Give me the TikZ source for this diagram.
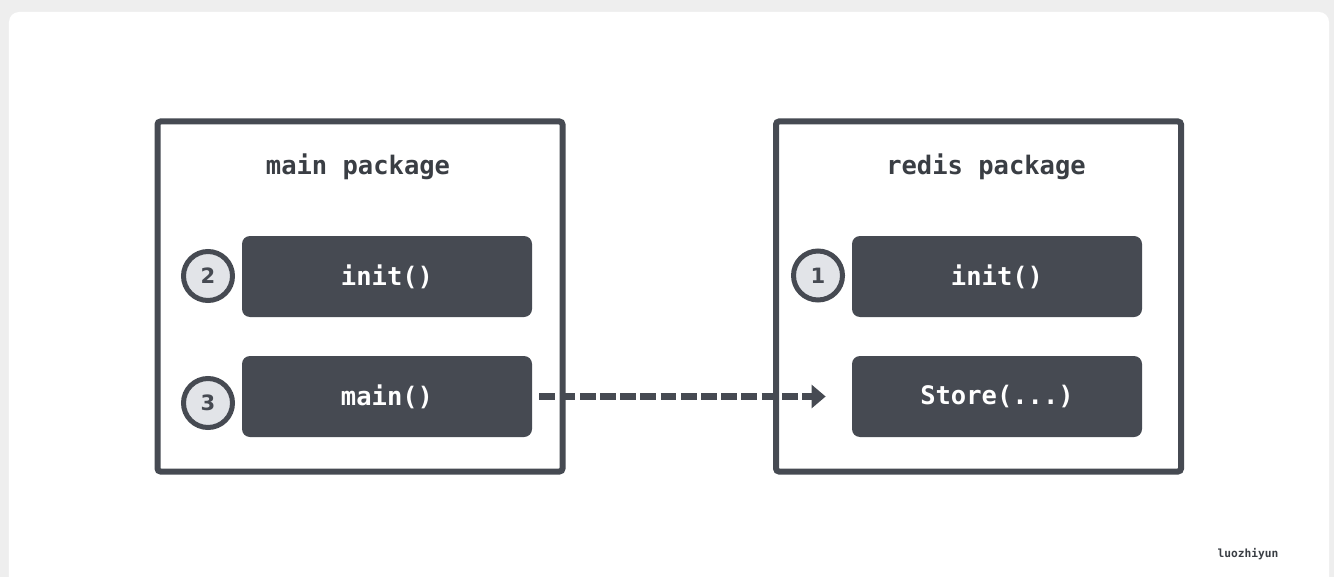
\documentclass[tikz,border=0pt]{standalone}
\usepackage{fontspec}
\setmainfont{DejaVu Sans}
\setsansfont{DejaVu Sans}
\setmonofont{DejaVu Sans Mono}
\usepackage{tikz}
\usetikzlibrary{arrows.meta, positioning, backgrounds}
\usepackage{xcolor}
\definecolor{pagegray}{RGB}{238, 238, 238}
\definecolor{boxgray}{RGB}{70, 74, 82}
\definecolor{circlefill}{RGB}{226, 228, 232}
\definecolor{titlegray}{RGB}{58, 62, 68}
\tikzset{
    package box/.style={
        rectangle,
        rounded corners=0.6mm,
        draw=boxgray,
        line width=0.12cm,
        minimum width=8.1cm,
        minimum height=7.0cm
    },
    package title/.style={
        font=\ttfamily\bfseries\fontsize{14.5}{17}\selectfont,
        text=titlegray
    },
    func box/.style={
        rectangle,
        rounded corners=1.6mm,
        fill=boxgray,
        minimum width=5.8cm,
        minimum height=1.62cm,
        align=center,
        text=white,
        font=\ttfamily\bfseries\fontsize{14.5}{17}\selectfont
    },
    order mark/.style={
        circle,
        draw=boxgray,
        line width=0.1cm,
        fill=circlefill,
        minimum size=0.98cm,
        inner sep=0pt,
        text=boxgray,
        font=\sffamily\bfseries\fontsize{12}{14}\selectfont
    },
    call arrow/.style={
        -{Triangle[length=8pt, width=13pt]},
        line width=0.15cm,
        draw=boxgray,
        dash pattern=on 9pt off 2.5pt
    }
}

\begin{document}
\begin{tikzpicture}

% Page and card
\useasboundingbox (0, 0) rectangle (26.68, 11.54);
\fill[pagegray] (0, 0) rectangle (26.68, 11.54);
\begin{scope}
    \clip (0, 0) rectangle (26.68, 11.54);
    \fill[white, rounded corners=2mm] (0.18, -0.5) rectangle (26.58, 11.3);
\end{scope}

% === PACKAGES ===
\node[package box] (mainpkg) at (7.2, 5.61) {};
\node[package box] (redispkg) at (19.57, 5.61) {};

\node[package title] (maintitle) at (7.16, 8.2) {main package};
\node[package title] (redistitle) at (19.72, 8.2) {redis package};

% === FUNCTIONS ===
\node[func box] (maininit) at (7.74, 6.01) {init()};
\node[func box] (mainfunc) at (7.74, 3.61) {main()};
\node[func box] (redisinit) at (19.94, 6.01) {init()};
\node[func box] (store) at (19.94, 3.61) {Store(...)};

% Order of execution
\node[order mark] (two) at (4.16, 6.02) {2};
\node[order mark] (three) at (4.16, 3.48) {3};
\node[order mark] (one) at (16.36, 6.03) {1};

% === CALL ===
\draw[call arrow, shorten <=0.14cm, shorten >=0.52cm] (mainfunc.east) -- (store.west);

% Watermark
\node[font=\ttfamily\bfseries\fontsize{6.4}{8}\selectfont, text=titlegray] (mark) at (24.96, 0.46) {luozhiyun};

\end{tikzpicture}
\end{document}
